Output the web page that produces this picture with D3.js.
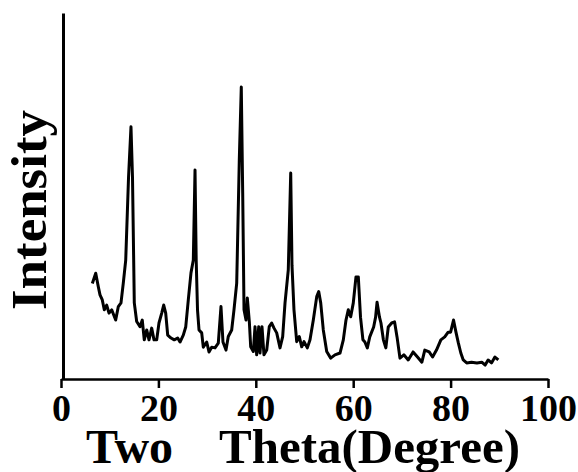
<!DOCTYPE html>
<html lang="en">
<head>
    <meta charset="UTF-8">
    <title>XRD pattern</title>
    <script src="https://d3js.org/d3.v7.min.js"></script>
    <style>
        body { margin: 0; background: #fff; }
        svg { display: block; }
    </style>
    <script>
        // two theta (degree) and intensity (arbitrary units)
        const twoTheta = [6.43, 7.13, 7.66, 8.01, 8.48, 8.89, 9.38, 9.86, 10.41, 11.23, 11.77, 12.32,
            12.79, 13.29, 13.87, 14.37, 14.68, 15.05, 15.54, 16.22, 16.69, 17.10, 17.60, 18.07, 18.62,
            19.10, 19.65, 20.12, 20.68, 21.09, 21.50, 21.91, 22.59, 23.26, 23.96, 24.44, 25.11, 25.61,
            26.14, 26.69, 27.17, 27.52, 27.76, 28.03, 28.34, 28.89, 29.22, 29.92, 30.39, 30.94, 31.62,
            32.30, 32.85, 33.26, 33.88, 34.35, 35.05, 35.52, 36.08, 36.61, 37.02, 37.31, 37.58, 37.99,
            38.26, 38.67, 38.95, 39.49, 39.84, 40.18, 40.60, 40.86, 41.27, 41.68, 42.24, 42.77, 43.26,
            43.74, 44.29, 44.97, 45.52, 46.00, 46.67, 47.17, 47.43, 47.84, 48.40, 48.93, 49.43, 49.90,
            50.58, 51.13, 51.81, 52.51, 52.92, 53.33, 53.86, 54.56, 55.38, 56.26, 57.29, 57.97, 58.52,
            58.99, 59.49, 60.02, 60.57, 61.05, 61.5, 62.0, 62.4, 62.9, 63.4, 64.2, 64.6, 64.9, 65.4,
            65.7, 66.2, 66.7, 67.2, 67.9, 68.5, 69.0, 69.6, 70.4, 71.3, 72.3, 73.2, 74.1, 74.7, 75.6,
            76.3, 77.1, 78.0, 78.8, 79.5, 80.0, 80.6, 81.1, 81.6, 82.1, 82.6, 83.3, 84.3, 85.4, 86.4,
            87.1, 87.7, 88.4, 89.1, 89.8];
        const intensity = [261, 289, 252, 230, 216, 189, 202, 180, 189, 161, 198, 208,
            262, 325, 552, 689, 552, 208, 157, 143, 161, 107, 134, 107, 139,
            107, 107, 153, 180, 202, 180, 120, 112, 107, 112, 101, 120, 142,
            216, 290, 325, 571, 325, 189, 134, 126, 87, 101, 74, 87, 85,
            98, 198, 101, 79, 116, 134, 189, 262, 598, 798, 508, 189, 161,
            221, 157, 88, 75, 143, 66, 143, 71, 143, 66, 79, 143, 153,
            139, 126, 85, 116, 208, 298, 563, 311, 189, 102, 116, 88, 102,
            85, 107, 161, 225, 239, 208, 134, 75, 57, 66, 71, 107, 161,
            189, 170, 208, 279, 279, 169, 107, 101, 85, 115, 142, 169, 210, 169,
            153, 107, 85, 142, 153, 156, 115, 57, 66, 52, 74, 60, 46, 79, 74,
            60, 79, 107, 115, 128, 128, 161, 128, 98, 71, 52, 44, 46, 44, 46,
            38, 52, 44, 60, 52];
        const xTicks = [0, 20, 40, 60, 80, 100];
        const xTitle = ["Two", "Theta(Degree)"];
        const yTitle = "Intensity";

        document.addEventListener("DOMContentLoaded", () => makeGraph());

        function makeGraph() {
            const margins = {top: 13, left: 61, right: 30, bottom: 93};
            const width = 487;
            const height = 366;
            const serif = "'Liberation Serif', 'Times New Roman', serif";

            const root = d3.select("svg")
                .attr("width", 578)
                .attr("height", 472);

            const svg = root.append("g")
                .attr("transform", `translate(${margins.left},${margins.top})`);

            const xScale = d3.scaleLinear().domain([0, 100]).range([0, width]);
            const yScale = d3.scaleLinear().domain([0, 1000]).range([height, 0]);

            const xAxis = svg.append("g")
                .attr("transform", `translate(0,${height})`)
                .call(d3.axisBottom(xScale).tickValues(xTicks).tickSize(9).tickSizeOuter(0));
            xAxis.select(".domain").attr("stroke-width", 2.5);
            xAxis.selectAll(".tick line").attr("stroke-width", 2.5);
            xAxis.selectAll(".tick text")
                .attr("y", 42)
                .attr("dy", 0)
                .attr("fill", "#000")
                .style("font-family", serif)
                .style("font-weight", "bold")
                .style("font-size", "38px");

            const yAxis = svg.append("g")
                .attr("transform", "translate(2,0)")
                .call(d3.axisLeft(yScale).tickValues([]).tickSizeOuter(0));
            yAxis.select(".domain").attr("stroke-width", 3);

            const points = twoTheta.map((t, i) => [t, intensity[i]]);
            const line = d3.line()
                .x(d => xScale(d[0]))
                .y(d => yScale(d[1]));

            svg.append("path")
                .datum(points)
                .attr("fill", "none")
                .attr("stroke", "#000")
                .attr("stroke-width", 3)
                .attr("stroke-linejoin", "round")
                .attr("d", line);

            root.append("text")
                .attr("x", 86)
                .attr("y", 463)
                .style("font-family", serif)
                .style("font-weight", "bold")
                .style("font-size", "48px")
                .text(xTitle[0]);
            root.append("text")
                .attr("x", 219)
                .attr("y", 463)
                .attr("textLength", 301)
                .attr("lengthAdjust", "spacingAndGlyphs")
                .style("font-family", serif)
                .style("font-weight", "bold")
                .style("font-size", "48px")
                .text(xTitle[1]);

            root.append("text")
                .attr("transform", "translate(46,210) rotate(-90)")
                .attr("text-anchor", "middle")
                .attr("textLength", 200)
                .attr("lengthAdjust", "spacingAndGlyphs")
                .style("font-family", serif)
                .style("font-weight", "bold")
                .style("font-size", "50px")
                .text(yTitle);
        }
    </script>
</head>
<body>
    <svg></svg>
</body>
</html>
